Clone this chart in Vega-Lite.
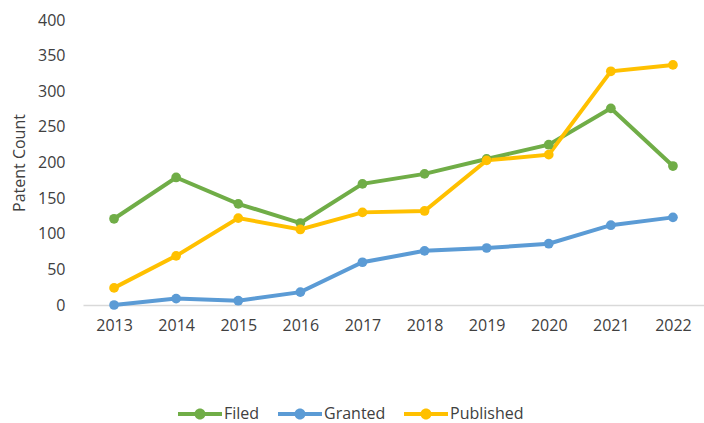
{
  "$schema": "https://vega.github.io/schema/vega-lite/v6.json",
  "width": 621,
  "height": 285,
  "autosize": {"type": "none"},
  "padding": {"left": 83, "top": 20, "right": 0, "bottom": 118},
  "background": "white",
  "config": {
    "view": {"stroke": null},
    "font": "Open Sans",
    "axis": {"labelFont": "Open Sans", "titleFont": "Open Sans", "labelColor": "#404040", "titleColor": "#404040", "grid": false, "ticks": false},
    "legend": {"labelFont": "Open Sans"}
  },
  "data": {
    "values": [
      {"Year": "2013", "Series": "Filed", "Count": 121},
      {"Year": "2014", "Series": "Filed", "Count": 179},
      {"Year": "2015", "Series": "Filed", "Count": 142},
      {"Year": "2016", "Series": "Filed", "Count": 115},
      {"Year": "2017", "Series": "Filed", "Count": 170},
      {"Year": "2018", "Series": "Filed", "Count": 184},
      {"Year": "2019", "Series": "Filed", "Count": 205},
      {"Year": "2020", "Series": "Filed", "Count": 225},
      {"Year": "2021", "Series": "Filed", "Count": 276},
      {"Year": "2022", "Series": "Filed", "Count": 195},
      {"Year": "2013", "Series": "Granted", "Count": 0},
      {"Year": "2014", "Series": "Granted", "Count": 9},
      {"Year": "2015", "Series": "Granted", "Count": 6},
      {"Year": "2016", "Series": "Granted", "Count": 18},
      {"Year": "2017", "Series": "Granted", "Count": 60},
      {"Year": "2018", "Series": "Granted", "Count": 76},
      {"Year": "2019", "Series": "Granted", "Count": 80},
      {"Year": "2020", "Series": "Granted", "Count": 86},
      {"Year": "2021", "Series": "Granted", "Count": 112},
      {"Year": "2022", "Series": "Granted", "Count": 123},
      {"Year": "2013", "Series": "Published", "Count": 24},
      {"Year": "2014", "Series": "Published", "Count": 69},
      {"Year": "2015", "Series": "Published", "Count": 122},
      {"Year": "2016", "Series": "Published", "Count": 106},
      {"Year": "2017", "Series": "Published", "Count": 130},
      {"Year": "2018", "Series": "Published", "Count": 132},
      {"Year": "2019", "Series": "Published", "Count": 203},
      {"Year": "2020", "Series": "Published", "Count": 211},
      {"Year": "2021", "Series": "Published", "Count": 328},
      {"Year": "2022", "Series": "Published", "Count": 337}
    ]
  },
  "encoding": {
    "x": {
      "field": "Year", "type": "ordinal",
      "scale": {"type": "point", "padding": 0.5},
      "axis": {"title": null, "labelAngle": 0, "labelFontSize": 16, "labelPadding": 12, "domainColor": "#d9d9d9", "domainWidth": 1.5}
    },
    "y": {
      "field": "Count", "type": "quantitative",
      "scale": {"domain": [0, 400], "nice": false},
      "axis": {"title": "Patent Count", "values": [0, 50, 100, 150, 200, 250, 300, 350, 400], "domain": false, "labelFontSize": 16, "labelPadding": 18, "titleFontSize": 16, "titleFontWeight": "normal", "titleX": -64, "titleY": 142.5, "titleAngle": -90, "titleAlign": "center", "titleBaseline": "middle"}
    },
    "color": {
      "field": "Series", "type": "nominal",
      "scale": {"domain": ["Filed", "Granted", "Published"], "range": ["#70AD47", "#5B9BD5", "#FFC000"]},
      "legend": {
        "title": null,
        "orient": "none",
        "direction": "horizontal",
        "legendX": 95,
        "legendY": 372,
        "padding": 0,
        "symbolType": "M-1,-0.09L1,-0.09L1,0.09L-1,0.09Z M-0.25,0A0.25,0.25 0 1,1 0.25,0A0.25,0.25 0 1,1 -0.25,0Z",
        "symbolSize": 1936,
        "symbolStrokeWidth": 0,
        "labelFontSize": 16,
        "labelColor": "#404040",
        "labelOffset": 2,
        "columnPadding": 18,
        "encode": {"symbols": {"update": {"fill": {"scale": "color", "field": "value"}, "stroke": {"value": "transparent"}, "opacity": {"value": 1}}}}
      }
    }
  },
  "layer": [
    {"mark": {"type": "line", "strokeWidth": 4}},
    {"mark": {"type": "point", "filled": true, "size": 95, "opacity": 1}}
  ]
}
